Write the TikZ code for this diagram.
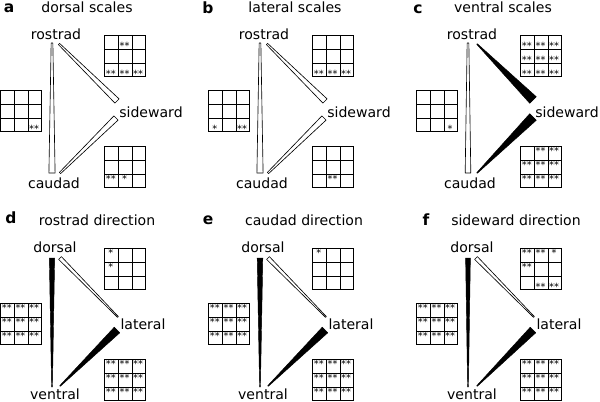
\documentclass[tikz,border=0pt]{standalone}
\usepackage{fontspec}
\setmainfont{DejaVu Sans}
\usetikzlibrary{calc}
\def\taper[#1](#2)(#3)(#4:#5){\draw[#1] ($(#2)!#4!90:(#3)$) -- ($(#2)!#4!-90:(#3)$) -- ($(#3)!#5!90:(#2)$) -- ($(#3)!#5!-90:(#2)$) -- cycle;}
\def\scalegrid#1(#2)#3{%
	\node[gridbox] (#1) at (#2) {};
	\foreach \k in {1,2} {
		\draw[gridline] ($(#1.north west)!\k/3!(#1.north east)$) -- ($(#1.south west)!\k/3!(#1.south east)$);
		\draw[gridline] ($(#1.north west)!\k/3!(#1.south west)$) -- ($(#1.north east)!\k/3!(#1.south east)$);
	}
	\foreach \code [count=\i from 0] in {#3} {
		\pgfmathtruncatemacro\row{\i/3}
		\pgfmathtruncatemacro\col{mod(\i,3)}
		\ifcase\code
		\or \node[starmark, anchor=north] (#1-\i) at ($(#1.north west)+(\col*41/3+41/6,\row*41/3+1.2)$) {*};
		\or \node[starmark, anchor=north] (#1-\i) at ($(#1.north west)+(\col*41/3+41/6,\row*41/3+1.2)$) {**};
		\or \node[starmark, anchor=south] (#1-\i) at ($(#1.north west)+(\col*41/3+41/6,\row*41/3+41/3+1.5)$) {*};
		\or \node[starmark, anchor=south] (#1-\i) at ($(#1.north west)+(\col*41/3+41/6,\row*41/3+41/3+1.5)$) {**};
		\fi
	}
}

\begin{document}
\begin{tikzpicture}[x=0.025cm, y=-0.025cm,
	letter/.style={font=\bfseries\fontsize{11}{13}\selectfont, inner sep=0},
	paneltitle/.style={font=\fontsize{10}{12}\selectfont, inner sep=0},
	site/.style={font=\fontsize{10}{12}\selectfont, inner sep=0},
	gridbox/.style={draw, line width=0.7pt, minimum size=29.2pt, inner sep=0, anchor=north west},
	gridline/.style={line width=0.7pt},
	starmark/.style={font=\fontsize{7}{7}\selectfont, inner sep=0},
	openwedge/.style={draw, fill=white, line width=0.45pt, line join=round},
	fullwedge/.style={draw, fill=black, line width=0.3pt, line join=round}]
	%%%%% START %%%%%
	\useasboundingbox (0,0) rectangle (600,402);
	
	% a: dorsal scales
	\begin{scope}
		\node[letter] (a) at (9,8) {a};
		\node[paneltitle] (a-title) at (87,7) {dorsal scales};
		\node[site] (a-rostrad) at (56,34) {rostrad};
		\node[site] (a-sideward) at (151,112) {sideward};
		\node[site] (a-caudad) at (54,183) {caudad};
		\coordinate (a-rv) at (52,43); \coordinate (a-rs) at (59,44);
		\coordinate (a-cv) at (52,173); \coordinate (a-cs) at (60,173);
		\coordinate (a-sr) at (117,101); \coordinate (a-sc) at (116,118);
		\taper[openwedge](a-rv)(a-cv)(0.6pt:2.2pt);
		\taper[openwedge](a-rs)(a-sr)(0.6pt:2.1pt);
		\taper[openwedge](a-cs)(a-sc)(0.6pt:2.1pt);
		\scalegrid{a-top}(104,35){0,4,0,0,0,0,4,4,4}
		\scalegrid{a-left}(0,90){0,0,0,0,0,0,0,0,4}
		\scalegrid{a-bottom}(104,146){0,0,0,0,0,0,2,1,0}
	\end{scope}
	
	% b: lateral scales
	\begin{scope}[shift={(208,0)}]
		\node[letter] (b) at (0,8) {b};
		\node[paneltitle] (b-title) at (87,7) {lateral scales};
		\node[site] (b-rostrad) at (56,34) {rostrad};
		\node[site] (b-sideward) at (151,112) {sideward};
		\node[site] (b-caudad) at (54,183) {caudad};
		\coordinate (b-rv) at (52,43); \coordinate (b-rs) at (59,44);
		\coordinate (b-cv) at (52,173); \coordinate (b-cs) at (60,173);
		\coordinate (b-sr) at (117,101); \coordinate (b-sc) at (116,118);
		\taper[openwedge](b-rv)(b-cv)(0.6pt:2.2pt);
		\taper[openwedge](b-rs)(b-sr)(0.6pt:2.1pt);
		\taper[openwedge](b-cs)(b-sc)(0.6pt:2.1pt);
		\scalegrid{b-top}(104,35){0,0,0,0,0,0,4,4,4}
		\scalegrid{b-left}(0,90){0,0,0,0,0,0,3,0,4}
		\scalegrid{b-bottom}(104,146){0,0,0,0,0,0,0,2,0}
	\end{scope}
	
	% c: ventral scales
	\begin{scope}[shift={(416,0)}]
		\node[letter] (c) at (2,9) {c};
		\node[paneltitle] (c-title) at (87,7) {ventral scales};
		\node[site] (c-rostrad) at (56,34) {rostrad};
		\node[site] (c-sideward) at (151,112) {sideward};
		\node[site] (c-caudad) at (54,183) {caudad};
		\coordinate (c-rv) at (52,43); \coordinate (c-rs) at (61,44);
		\coordinate (c-cv) at (52,173); \coordinate (c-cs) at (61,173);
		\coordinate (c-sr) at (117,100); \coordinate (c-sc) at (117,117);
		\taper[openwedge](c-rv)(c-cv)(0.6pt:2.0pt);
		\taper[fullwedge](c-rs)(c-sr)(0.3pt:3.3pt);
		\taper[fullwedge](c-cs)(c-sc)(0.3pt:3.3pt);
		\scalegrid{c-top}(104,35){4,4,4,4,4,4,4,4,4}
		\scalegrid{c-left}(0,90){0,0,0,0,0,0,0,0,3}
		\scalegrid{c-bottom}(104,146){0,2,2,2,2,2,2,2,2}
	\end{scope}
	
	% d: rostrad direction
	\begin{scope}[shift={(0,0)}]
		\node[letter] (d) at (11,218) {d};
		\node[paneltitle] (d-title) at (97,220) {rostrad direction};
		\node[site] (d-dorsal) at (55,247) {dorsal};
		\node[site] (d-lateral) at (143,324) {lateral};
		\node[site] (d-ventral) at (55,394) {ventral};
		\coordinate (d-dv) at (52,258); \coordinate (d-dl) at (60,258);
		\coordinate (d-vd) at (52,387); \coordinate (d-vl) at (60,386);
		\coordinate (d-ld) at (118,317); \coordinate (d-lv) at (117,330);
		\taper[fullwedge](d-dv)(d-vd)(1.9pt:0.3pt);
		\taper[openwedge](d-dl)(d-ld)(1.4pt:0.4pt);
		\taper[fullwedge](d-vl)(d-lv)(0.3pt:2.8pt);
		\scalegrid{d-top}(104,248){1,0,0,1,0,0,0,0,0}
		\scalegrid{d-left}(0,303){2,2,2,2,2,2,2,2,2}
		\scalegrid{d-bottom}(104,359){2,2,2,2,2,2,2,2,2}
	\end{scope}
	
	% e: caudad direction
	\begin{scope}[shift={(208,0)}]
		\node[letter] (e) at (0,220) {e};
		\node[paneltitle] (e-title) at (96,220) {caudad direction};
		\node[site] (e-dorsal) at (55,247) {dorsal};
		\node[site] (e-lateral) at (143,324) {lateral};
		\node[site] (e-ventral) at (55,394) {ventral};
		\coordinate (e-dv) at (52,258); \coordinate (e-dl) at (60,258);
		\coordinate (e-vd) at (52,387); \coordinate (e-vl) at (60,386);
		\coordinate (e-ld) at (118,317); \coordinate (e-lv) at (117,330);
		\taper[fullwedge](e-dv)(e-vd)(2.0pt:0.3pt);
		\taper[openwedge](e-dl)(e-ld)(1.4pt:0.4pt);
		\taper[fullwedge](e-vl)(e-lv)(0.3pt:2.8pt);
		\scalegrid{e-top}(104,248){1,0,0,0,0,0,0,0,0}
		\scalegrid{e-left}(0,303){2,2,2,2,2,2,2,2,2}
		\scalegrid{e-bottom}(104,359){2,2,2,2,2,2,2,2,2}
	\end{scope}
	
	% f: sideward direction
	\begin{scope}[shift={(416,0)}]
		\node[letter] (f) at (10,220) {f};
		\node[paneltitle] (f-title) at (100,220) {sideward direction};
		\node[site] (f-dorsal) at (56,247) {dorsal};
		\node[site] (f-lateral) at (143,324) {lateral};
		\node[site] (f-ventral) at (56,394) {ventral};
		\coordinate (f-dv) at (52,258); \coordinate (f-dl) at (60,258);
		\coordinate (f-vd) at (52,387); \coordinate (f-vl) at (61,386);
		\coordinate (f-ld) at (118,317); \coordinate (f-lv) at (117,330);
		\taper[fullwedge](f-dv)(f-vd)(1.7pt:0.3pt);
		\taper[openwedge](f-dl)(f-ld)(1.4pt:0.4pt);
		\taper[fullwedge](f-vl)(f-lv)(0.3pt:2.8pt);
		\scalegrid{f-top}(104,248){2,2,1,2,0,0,0,4,4}
		\scalegrid{f-left}(0,303){2,2,2,2,2,2,2,2,2}
		\scalegrid{f-bottom}(104,359){2,2,2,2,2,2,2,2,2}
	\end{scope}
	
	%%%%% END %%%%%
\end{tikzpicture}
\end{document}
